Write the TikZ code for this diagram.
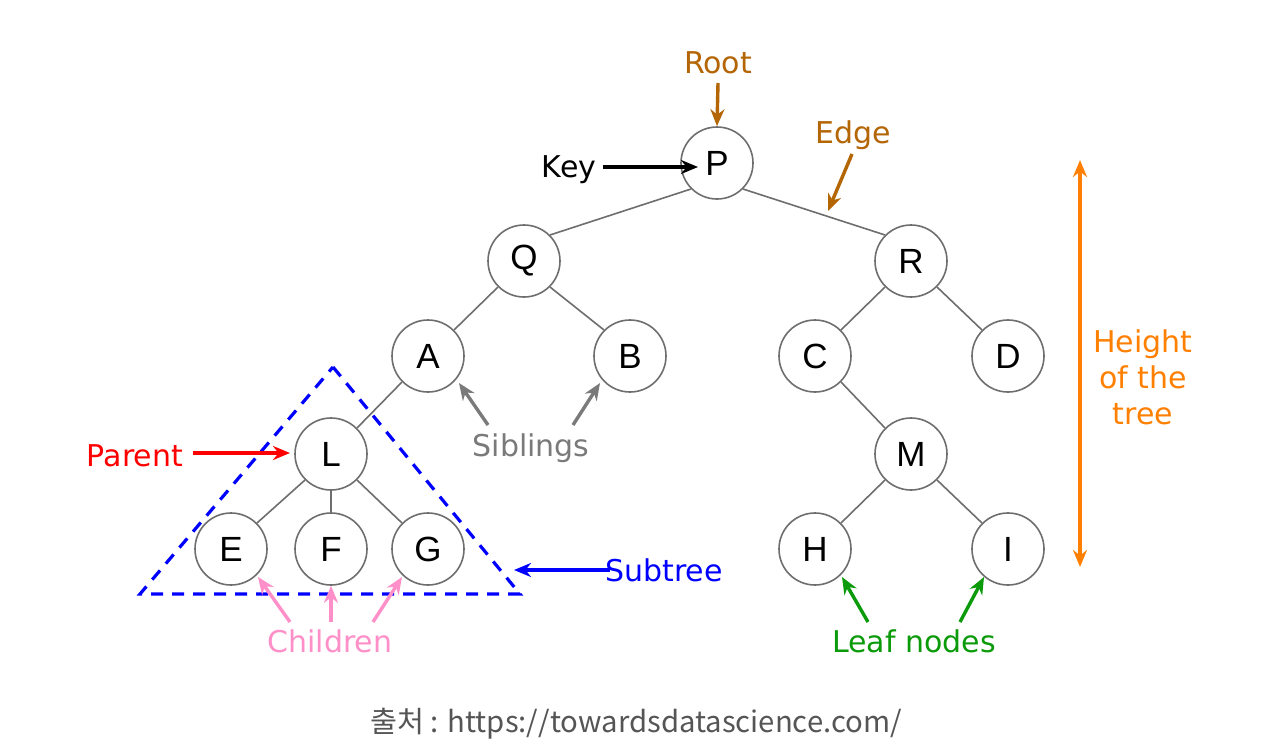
\documentclass[tikz,border=0pt]{standalone}
\usepackage{fontspec}
\setmainfont{DejaVu Sans}
\newfontfamily\nodefont{Liberation Sans}
\newfontfamily\capfont{Noto Sans CJK KR}
\usetikzlibrary{arrows.meta}
\definecolor{brownc}{HTML}{B46504}
\definecolor{grayc}{HTML}{7A7A7A}
\definecolor{pinkc}{HTML}{FF8FC8}
\definecolor{greenc}{HTML}{0A9A0A}
\definecolor{orangec}{HTML}{FF8000}
\definecolor{edgec}{HTML}{6E6E6E}
\definecolor{capc}{HTML}{555555}
\tikzset{
  tnode/.style={circle, draw=edgec, line width=1.6pt, fill=white, minimum size=72pt, inner sep=0pt, font=\nodefont\fontsize{35}{38}\selectfont},
  tedge/.style={draw=edgec, line width=1.6pt},
  lbl/.style={font=\fontsize{30}{36}\selectfont, inner sep=0pt},
  ann/.style={line width=3.4pt, -{Stealth[length=17pt,width=14pt]}},
}
\begin{document}
\begin{tikzpicture}[x=1pt,y=-1pt]
\useasboundingbox[fill=white] (0,0) rectangle (1261,750);
% subtree triangle
\coordinate (t1) at (333,367);
\coordinate (t2) at (140,594);
\coordinate (t3) at (520,594);
\draw[blue, line width=3.2pt, dash pattern=on 12pt off 9pt] (t1) -- (t3) -- (t2) -- cycle;
% nodes
\node[tnode] (P) at (717,163) {P};
\node[tnode] (Q) at (524,261) {Q};
\node[tnode] (R) at (911,261) {R};
\node[tnode] (A) at (428,356) {A};
\node[tnode] (B) at (630,356) {B};
\node[tnode] (C) at (815,356) {C};
\node[tnode] (D) at (1008,356) {D};
\node[tnode] (L) at (331,454) {L};
\node[tnode] (M) at (911,454) {M};
\node[tnode] (E) at (231,549) {E};
\node[tnode] (F) at (331,549) {F};
\node[tnode] (G) at (428,549) {G};
\node[tnode] (H) at (815,549) {H};
\node[tnode] (I) at (1008,549) {I};
% edges
\foreach \a/\b in {P/Q,Q/A,R/C,A/L,L/E,M/H}
  \draw[tedge] (\a.south west) -- (\b.north east);
\foreach \a/\b in {P/R,Q/B,R/D,C/M,L/G,M/I}
  \draw[tedge] (\a.south east) -- (\b.north west);
\draw[tedge] (L.south) -- (F.north);
% labels
\node[lbl, text=brownc] (root) at (718,63) {Root};
\coordinate (rs) at (718,83);
\draw[ann, brownc] (rs) -- (P.north);
\node[lbl] (key) at (569,170) {Key};
\coordinate (ks) at (603,167);
\coordinate (keyend) at (698,167);
\draw[ann, black] (ks) -- (keyend);
\node[lbl, text=brownc] (edge) at (853,135) {Edge};
\coordinate (edgestart) at (852,154);
\coordinate (edgeend) at (828,211);
\draw[ann, brownc] (edgestart) -- (edgeend);
\node[lbl, text=red] (parent) at (135,456) {Parent};
\coordinate (ps) at (193,453);
\coordinate (parentend) at (290,453);
\draw[ann, red] (ps) -- (parentend);
\node[lbl, text=grayc] (sib) at (531,448) {Siblings};
\coordinate (s1) at (488,425);
\coordinate (s2) at (573,425);
\coordinate (s1e) at (459,383);
\coordinate (s2e) at (600,383);
\draw[ann, grayc] (s1) -- (s1e);
\draw[ann, grayc] (s2) -- (s2e);
\node[lbl, text=blue] (sub) at (664,570) {Subtree};
\coordinate (ss) at (610,570);
\coordinate (subend) at (514,570);
\draw[ann, blue] (ss) -- (subend);
\node[lbl, text=pinkc] (child) at (330,641) {Children};
\coordinate (c1) at (290,622);
\coordinate (c2) at (331,622);
\coordinate (c3) at (373,622);
\coordinate (c1e) at (258,577);
\coordinate (c3e) at (402,577);
\draw[ann, pinkc] (c1) -- (c1e);
\draw[ann, pinkc] (c2) -- (F.south);
\draw[ann, pinkc] (c3) -- (c3e);
\node[lbl, text=greenc] (leaf) at (914,641) {Leaf nodes};
\coordinate (l1) at (868,622);
\coordinate (l2) at (960,622);
\coordinate (l1e) at (842,577);
\coordinate (l2e) at (984,577);
\draw[ann, greenc] (l1) -- (l1e);
\draw[ann, greenc] (l2) -- (l2e);
\node[lbl, text=orangec, align=center] (height) at (1143,377) {Height\\of the\\tree};
\coordinate (h1) at (1080,160);
\coordinate (h2) at (1080,567);
\draw[line width=3.4pt, orangec, {Stealth[length=17pt,width=14pt]}-{Stealth[length=17pt,width=14pt]}] (h1) -- (h2);
% caption
\node[font=\capfont\fontsize{29.3}{32}\selectfont, text=capc, inner sep=0pt] (cap) at (636,724) {출처 : https://towardsdatascience.com/};
\end{tikzpicture}
\end{document}
